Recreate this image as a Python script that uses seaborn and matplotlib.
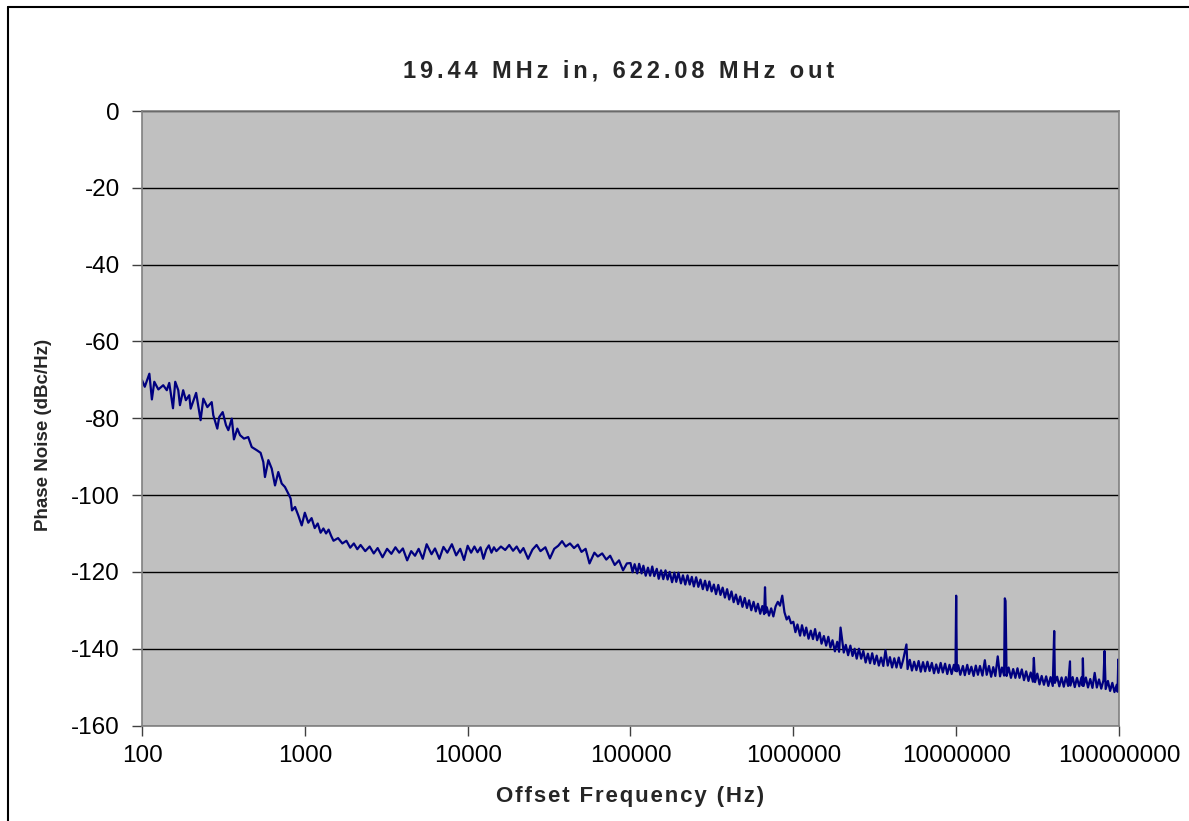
"""
plot.py
-------
Phase noise plot (19.44 MHz in, 622.08 MHz out) redrawn with seaborn in the
look of the original Excel chart: grey plot area, black horizontal grid,
navy trace on a log frequency axis.

Run:
    python plot.py
"""

import matplotlib
matplotlib.use("Agg")
import matplotlib.pyplot as plt
from matplotlib.lines import Line2D
from matplotlib.ticker import NullLocator
import pandas as pd
import seaborn as sns

# ── Data ──────────────────────────────────────────────────────────────────── #
# 100 Hz .. 1 kHz : the loop roll-off
FREQ_LOW_HZ = [
    100, 104, 111, 115, 119, 126, 135, 142, 147, 155, 160, 167, 171, 179,
    186, 195, 199, 215, 229, 238, 252, 268, 274, 290, 298, 313, 328, 339,
    356, 367, 385, 400, 423, 449, 472, 506, 535, 556, 569, 597, 626, 656,
    687, 721, 755, 791, 818, 834, 871, 912, 957,
]
PN_LOW_DBC = [
    -70.1, -71.8, -68.4, -75.1, -70.5, -72.5, -71.4, -72.7, -70.8, -77.4,
    -70.5, -72.7, -76.6, -72.7, -75.3, -74.0, -77.5, -73.4, -80.5, -74.9,
    -77.1, -75.8, -79.2, -82.7, -79.7, -78.4, -81.8, -83.1, -80.1, -85.5,
    -82.7, -84.4, -85.3, -84.9, -87.5, -88.3, -89.0, -91.4, -95.3, -90.9,
    -93.1, -97.5, -94.0, -97.0, -97.9, -99.6, -100.9, -104.0, -103.1,
    -105.3, -107.9,
]

# 1 kHz .. 100 kHz : in-band floor
FREQ_MID_HZ = [
    1000, 1050, 1100, 1150, 1200, 1250, 1300, 1350, 1400, 1450, 1500, 1600,
    1700, 1800, 1900, 2000, 2100, 2200, 2350, 2500, 2650, 2800, 3000, 3200,
    3400, 3600, 3800, 4000, 4250, 4500, 4750, 5000, 5300, 5600, 6000, 6300,
    6700, 7100, 7500, 8000, 8500, 9000, 9500,
    10000, 10500, 11000, 11500, 12000, 12500, 13000, 13500, 14000, 14500,
    15000, 16000, 17000, 18000, 19000, 20000, 21000, 22000, 23500, 25000,
    26500, 28000, 30000, 32000, 34000, 36000, 38000, 40000, 42500, 45000,
    47500, 50000, 53000, 56000, 60000, 63000, 67000, 71000, 75000, 80000,
    85000, 90000, 95000,
]
PN_MID_DBC = [
    -104.6, -107.2, -106.0, -108.6, -107.4, -109.8, -108.7, -110.0, -109.0,
    -110.6, -111.9, -111.2, -112.6, -111.9, -113.7, -112.6, -114.1, -113.0,
    -114.6, -113.4, -115.2, -113.8, -116.2, -114.0, -115.3, -113.6, -115.0,
    -113.9, -117.0, -114.6, -115.8, -114.0, -116.6, -112.8, -115.4, -113.9,
    -116.6, -113.5, -115.0, -112.8, -115.7, -114.0, -116.9,
    -113.2, -115.0, -113.4, -114.9, -113.6, -116.6, -114.2, -113.1, -115.0,
    -113.6, -114.6, -113.4, -114.3, -113.0, -114.5, -113.4, -115.0, -113.8,
    -116.6, -114.2, -113.0, -114.6, -113.6, -116.5, -114.0, -113.2, -112.0,
    -113.4, -112.6, -113.8, -112.9, -114.8, -114.0, -117.8, -115.0, -116.0,
    -115.2, -116.8, -115.8, -118.2, -117.0, -119.6, -117.8,
]

# 100 kHz .. 1 MHz : outside the loop, with the 670 kHz spur and 850 kHz bump
FREQ_ROLL_HZ = [
    1.00e5, 1.03e5, 1.06e5, 1.10e5, 1.13e5, 1.17e5, 1.20e5, 1.24e5, 1.28e5, 1.32e5,
    1.36e5, 1.40e5, 1.45e5, 1.49e5, 1.54e5, 1.59e5, 1.64e5, 1.69e5, 1.74e5, 1.80e5,
    1.86e5, 1.91e5, 1.97e5, 2.04e5, 2.10e5, 2.17e5, 2.24e5, 2.31e5, 2.38e5, 2.45e5,
    2.53e5, 2.61e5, 2.69e5, 2.78e5, 2.87e5, 2.96e5, 3.05e5, 3.15e5, 3.25e5, 3.35e5,
    3.46e5, 3.57e5, 3.68e5, 3.80e5, 3.92e5, 4.04e5, 4.17e5, 4.30e5, 4.44e5, 4.58e5,
    4.72e5, 4.87e5, 5.03e5, 5.19e5, 5.35e5, 5.52e5, 5.70e5, 5.88e5, 6.06e5, 6.26e5,
    6.45e5, 6.62e5, 6.70e5, 6.78e5, 6.87e5, 7.09e5, 7.31e5, 7.54e5, 7.78e5, 8.03e5,
    8.28e5, 8.55e5, 8.82e5, 9.10e5, 9.38e5, 9.68e5,
]
PN_ROLL_DBC = [
    -117.7, -120.1, -118.0, -120.4, -117.9, -120.4, -118.4, -121.0, -118.9, -121.0,
    -118.6, -121.1, -119.2, -121.8, -119.6, -121.9, -119.6, -122.0, -120.0, -122.7,
    -120.2, -122.6, -120.2, -123.0, -120.9, -123.3, -120.9, -123.3, -121.3, -123.8,
    -121.4, -123.9, -122.0, -124.5, -122.3, -124.8, -122.5, -125.1, -123.3, -125.8,
    -123.4, -126.0, -124.1, -126.7, -124.5, -127.2, -125.1, -127.9, -125.9, -128.4,
    -126.4, -129.1, -126.8, -129.4, -127.4, -130.0, -127.8, -130.3, -128.3, -130.9,
    -128.9, -131.0, -124.0, -130.6, -129.2, -131.4, -129.5, -131.6, -129.0, -127.8,
    -128.8, -126.2, -130.5, -132.4, -131.6, -133.4,
]

# 1 MHz .. 100 MHz : noise floor with the reference spurs
FREQ_FLOOR_HZ = [
    1.00e6, 1.03e6, 1.06e6, 1.10e6, 1.13e6, 1.17e6, 1.20e6, 1.24e6, 1.28e6,
    1.32e6, 1.36e6, 1.40e6, 1.45e6, 1.49e6, 1.54e6, 1.59e6, 1.64e6, 1.69e6,
    1.74e6, 1.80e6, 1.86e6, 1.91e6, 1.95e6, 2.04e6, 2.10e6, 2.17e6, 2.24e6,
    2.31e6, 2.38e6, 2.45e6, 2.53e6, 2.61e6, 2.69e6, 2.78e6, 2.87e6, 2.96e6,
    3.05e6, 3.15e6, 3.25e6, 3.35e6, 3.46e6, 3.57e6, 3.68e6, 3.80e6, 3.92e6,
    4.04e6, 4.17e6, 4.30e6, 4.44e6, 4.58e6, 4.72e6, 4.95e6, 5.03e6, 5.19e6,
    5.35e6, 5.52e6, 5.70e6, 5.88e6, 6.06e6, 6.26e6, 6.45e6, 6.66e6, 6.87e6,
    7.09e6, 7.31e6, 7.54e6, 7.78e6, 8.03e6, 8.28e6, 8.55e6, 8.82e6, 9.10e6,
    9.38e6, 9.68e6, 9.90e6,
    1.00e7, 1.01e7, 1.03e7, 1.06e7, 1.10e7, 1.13e7, 1.17e7, 1.20e7, 1.24e7,
    1.28e7, 1.32e7, 1.36e7, 1.40e7, 1.45e7, 1.50e7, 1.54e7, 1.59e7, 1.64e7,
    1.69e7, 1.74e7, 1.80e7, 1.86e7, 1.91e7, 1.97e7, 1.99e7, 2.01e7, 2.04e7,
    2.10e7, 2.17e7, 2.24e7, 2.31e7, 2.38e7, 2.45e7, 2.53e7, 2.61e7, 2.69e7,
    2.78e7, 2.87e7, 2.96e7, 3.00e7, 3.05e7, 3.15e7, 3.25e7, 3.35e7, 3.46e7,
    3.57e7, 3.68e7, 3.80e7, 3.92e7, 4.00e7, 4.04e7, 4.17e7, 4.30e7, 4.44e7,
    4.58e7, 4.72e7, 4.87e7, 5.00e7, 5.03e7, 5.19e7, 5.35e7, 5.52e7, 5.70e7,
    5.88e7, 5.97e7, 6.00e7, 6.06e7, 6.26e7, 6.45e7, 6.66e7, 6.87e7, 7.09e7,
    7.31e7, 7.54e7, 7.78e7, 8.03e7, 8.15e7, 8.28e7, 8.55e7, 8.82e7, 9.10e7,
    9.38e7, 9.68e7, 9.80e7, 9.90e7, 1.00e8,
]
PN_FLOOR_DBC = [
    -133.0, -135.7, -133.7, -136.6, -133.9, -136.6, -134.5, -137.4, -135.3,
    -137.5, -134.9, -137.8, -135.8, -138.7, -136.7, -139.2, -136.9, -139.7,
    -137.8, -140.7, -138.2, -140.8, -134.5, -141.0, -139.0, -141.7, -139.2,
    -141.9, -140.0, -142.6, -140.0, -142.6, -140.6, -143.6, -141.3, -143.8,
    -141.2, -144.0, -141.8, -144.4, -142.3, -144.5, -140.4, -144.4, -142.2,
    -144.9, -142.5, -144.9, -142.3, -145.0, -143.0, -138.9, -145.3, -142.9,
    -145.7, -143.4, -145.6, -143.2, -146.0, -143.5, -145.9, -143.4, -145.8,
    -143.7, -146.4, -144.1, -146.3, -143.7, -146.2, -143.9, -146.6, -144.2,
    -146.6, -144.2, -145.8,
    -126.2, -145.9, -144.3, -146.8, -144.5, -146.9, -144.2, -146.6, -144.7,
    -147.1, -144.4, -146.8, -144.5, -147.0, -143.0, -146.8, -144.5, -147.3,
    -144.8, -147.1, -142.0, -147.2, -144.9, -147.0, -126.9, -127.6, -147.1,
    -144.9, -147.6, -145.3, -147.6, -145.1, -147.6, -145.4, -148.2, -145.9,
    -148.4, -146.2, -148.6, -142.4, -148.7, -146.5, -149.3, -147.1, -149.4,
    -147.2, -149.7, -147.4, -149.7, -135.4, -148.9, -147.3, -149.8, -147.5,
    -149.9, -147.4, -149.7, -143.3, -149.6, -147.4, -150.0, -147.6, -149.8,
    -147.5, -149.6, -142.5, -149.7, -147.5, -150.1, -147.9, -150.2, -146.3,
    -150.1, -148.0, -150.4, -148.2, -140.6, -150.5, -148.4, -151.0, -148.9,
    -151.3, -149.4, -151.2, -142.8, -151.1,
]

X_TICKS = [100, 1000, 10000, 100000, 1000000, 10000000, 100000000]
X_TICK_LABELS = ["100", "1000", "10000", "100000", "1000000", "10000000",
                 "100000000"]
Y_TICKS = [0, -20, -40, -60, -80, -100, -120, -140, -160]

TITLE = "19.44 MHz in, 622.08 MHz out"
X_LABEL = "Offset Frequency (Hz)"
Y_LABEL = "Phase Noise (dBc/Hz)"

# ── Style ─────────────────────────────────────────────────────────────────── #
PLOT_BG    = "#C0C0C0"
TRACE      = "#000080"
BORDER     = "#808080"
W, H       = 1189, 821


def spaced(text, sep):
    # Excel stretched its bold labels sideways; mimic with a gap per glyph
    return sep.join(list(text))


def main():
    sns.set_style("white", {"axes.facecolor": PLOT_BG})
    plt.rcParams["font.family"] = ["Liberation Sans", "DejaVu Sans"]
    plt.rcParams["axes.unicode_minus"] = False

    df = pd.DataFrame({
        "freq": FREQ_LOW_HZ + FREQ_MID_HZ + FREQ_ROLL_HZ + FREQ_FLOOR_HZ,
        "pn": PN_LOW_DBC + PN_MID_DBC + PN_ROLL_DBC + PN_FLOOR_DBC,
    })

    fig = plt.figure(figsize=(W / 100, H / 100), dpi=100)
    ax = fig.add_axes([142 / W, 1 - 725.5 / H, (1119 - 142) / W, (725.5 - 111) / H])

    sns.lineplot(data=df, x="freq", y="pn", estimator=None, sort=False,
                 color=TRACE, linewidth=1.6, ax=ax)

    ax.set_xscale("log")
    ax.set_xlim(100, 1e8)
    ax.set_ylim(-160, 0)
    ax.set_xticks(X_TICKS)
    ax.set_xticklabels(X_TICK_LABELS)
    ax.xaxis.set_minor_locator(NullLocator())
    ax.set_yticks(Y_TICKS)
    ax.set_xlabel("")
    ax.set_ylabel("")

    ax.set_axisbelow(True)
    ax.yaxis.grid(True, color="black", linewidth=1)
    ax.xaxis.grid(False)
    for side in ["left", "right", "top", "bottom"]:
        ax.spines[side].set_visible(True)
        ax.spines[side].set_color(BORDER)
        ax.spines[side].set_linewidth(1.2)

    ax.tick_params(axis="both", direction="out", length=7, width=1,
                   color="#404040", labelsize=17.5, labelcolor="black")
    ax.tick_params(axis="y", pad=9, left=True)
    ax.tick_params(axis="x", pad=7, bottom=True)

    # titles as figure text, placed like the Excel layout
    fig.text(618.5 / W, 1 - 77.3 / H, spaced(TITLE, "\u2006"), ha="center",
             va="baseline", fontsize=17, fontweight="bold")
    fig.text(630.5 / W, 1 - 802 / H, spaced(X_LABEL, "\u200a"), ha="center",
             va="baseline", fontsize=16, fontweight="bold")
    fig.text(44 / W, 1 - 435 / H, Y_LABEL, ha="center", va="center",
             rotation=90, fontsize=13.5, fontweight="bold")

    # chart-area frame (only left and top edges fall inside the picture)
    fig.add_artist(Line2D([7.5 / W, 7.5 / W], [0, 1 - 7.5 / H],
                          transform=fig.transFigure, color="black", lw=1.5))
    fig.add_artist(Line2D([7.5 / W, 1], [1 - 7.5 / H, 1 - 7.5 / H],
                          transform=fig.transFigure, color="black", lw=1.5))

    fig.savefig("out.png", dpi=100)
    plt.close(fig)


if __name__ == "__main__":
    main()
